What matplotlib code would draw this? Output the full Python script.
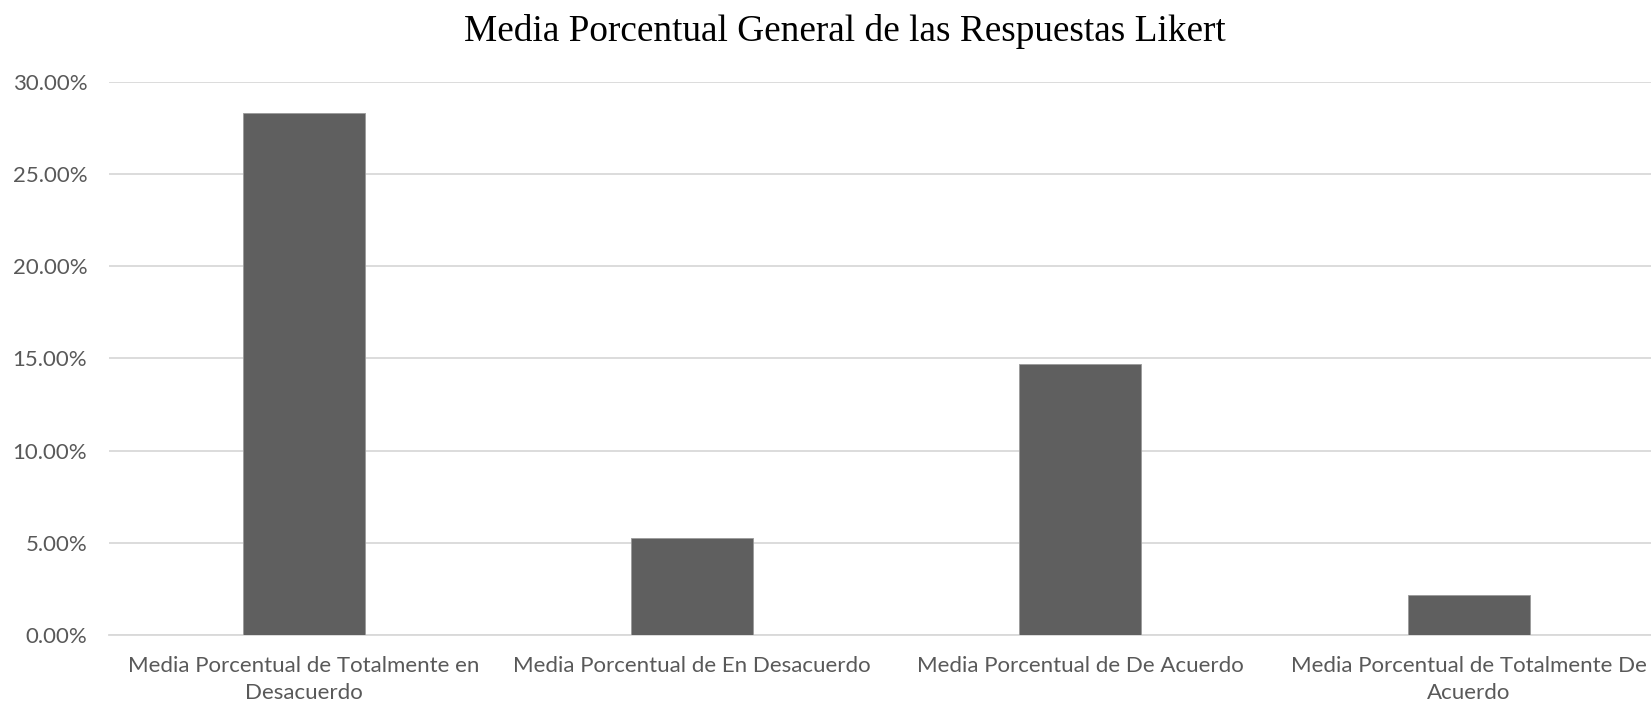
import matplotlib.pyplot as plt
import numpy as np
from matplotlib.ticker import FuncFormatter

# datos
categorias = [
    "Media Porcentual de Totalmente en\nDesacuerdo",
    "Media Porcentual de En Desacuerdo",
    "Media Porcentual de De Acuerdo",
    "Media Porcentual de Totalmente De\nAcuerdo",
]
valores = [28.31, 5.27, 14.69, 2.17]
yticks = [0, 5, 10, 15, 20, 25, 30]

fig = plt.figure(figsize=(16.51, 7.04), dpi=100)
ax = fig.add_axes([0.0663, 0.098, 0.941, 0.786])

x = np.arange(len(categorias))
ax.bar(x, valores, width=0.314, color="#5f5f5f", edgecolor="#9a9a9a", linewidth=0.6, zorder=3)

ax.set_xlim(-0.5, len(categorias) - 0.5)
ax.set_ylim(0, 30)
ax.set_yticks(yticks)
ax.yaxis.set_major_formatter(FuncFormatter(lambda v, p: f"{v:.2f}%"))
ax.set_xticks(x)
ax.set_xticklabels(categorias, linespacing=1.45)

for lab in ax.get_xticklabels() + ax.get_yticklabels():
    lab.set_family("Lato")
    lab.set_fontsize(16)
    lab.set_color("#595959")

ax.tick_params(axis="y", length=0, pad=16)
ax.tick_params(axis="x", length=0, pad=15)
ax.grid(axis="y", color="#d9d9d9", linewidth=1.3, zorder=0)
for s in ["top", "right", "left"]:
    ax.spines[s].set_visible(False)
ax.spines["bottom"].set_color("#d9d9d9")
ax.spines["bottom"].set_linewidth(1.3)

fig.text(0.512, 0.955, "Media Porcentual General de las Respuestas Likert",
         ha="center", va="center", family="Liberation Serif", fontsize=26.8, color="black")

plt.savefig("out.png", dpi=100)
